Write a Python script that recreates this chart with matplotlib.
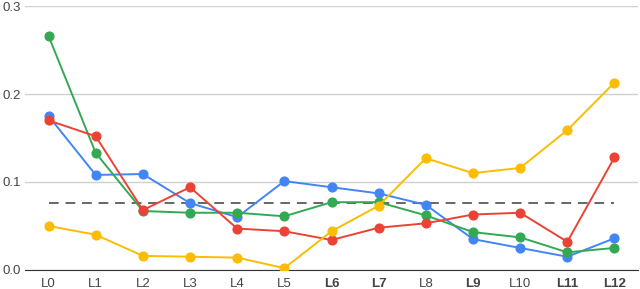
import matplotlib
matplotlib.use("Agg")
import matplotlib.pyplot as plt

layers = ["L0", "L1", "L2", "L3", "L4", "L5", "L6", "L7", "L8", "L9", "L10", "L11", "L12"]
bold_layers = ["L6", "L7", "L9", "L11", "L12"]

blue = [0.175, 0.108, 0.109, 0.076, 0.060, 0.101, 0.094, 0.087, 0.074, 0.035, 0.025, 0.015, 0.036]
red = [0.170, 0.152, 0.068, 0.094, 0.047, 0.044, 0.034, 0.048, 0.053, 0.063, 0.065, 0.032, 0.128]
green = [0.266, 0.133, 0.067, 0.065, 0.065, 0.061, 0.077, 0.077, 0.062, 0.043, 0.037, 0.020, 0.025]
yellow = [0.050, 0.040, 0.016, 0.015, 0.014, 0.002, 0.044, 0.073, 0.127, 0.110, 0.116, 0.159, 0.213]
baseline = 0.076

plt.rcParams["font.family"] = ["Liberation Sans", "DejaVu Sans"]

fig = plt.figure(figsize=(6.4, 2.89), dpi=100)
ax = fig.add_axes([0.039, 0.066, 0.958, 0.913])

x = list(range(len(layers)))
ax.plot([x[0], x[-1]], [baseline, baseline], "--", color="#666666", lw=1.4,
        dashes=(5, 3.5), zorder=1)
for vals, col in [(blue, "#4285F4"), (green, "#34A853"), (red, "#EA4335"), (yellow, "#FBBC04")]:
    ax.plot(x, vals, "-o", color=col, lw=1.4, ms=6.3, zorder=3)

ax.set_xlim(-0.5, 12.5)
ax.set_ylim(0, 0.3)
ax.set_yticks([0.0, 0.1, 0.2, 0.3])
ax.set_yticklabels(["0.0", "0.1", "0.2", "0.3"])
ax.set_xticks(x)
ax.set_xticklabels(layers)
for lbl in ax.get_xticklabels():
    if lbl.get_text() in bold_layers:
        lbl.set_fontweight("bold")
ax.tick_params(length=0, labelsize=9.5, colors="#444444")
ax.tick_params(axis="x", pad=6)
ax.tick_params(axis="y", pad=3)
ax.grid(axis="y", color="#d0d0d0", lw=1)
ax.set_axisbelow(True)
for s in ["top", "right", "left"]:
    ax.spines[s].set_visible(False)
ax.spines["bottom"].set_color("#333333")
ax.spines["bottom"].set_zorder(2)

fig.savefig("out.png", dpi=100)
